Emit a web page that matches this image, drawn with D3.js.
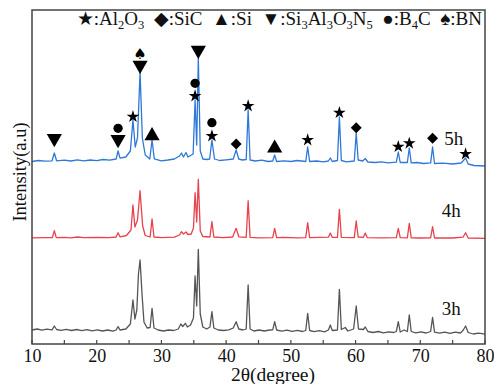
<!DOCTYPE html>
<html><head><meta charset="utf-8">
<script src="https://cdn.jsdelivr.net/npm/d3@7"></script>
<style>
body{margin:0;background:#fff;}
svg{display:block;font-family:"Liberation Serif","Times New Roman",serif;}
</style></head>
<body><svg id="c" width="494" height="384"></svg>
<script>
// ---- data: [2θ, intensity (a.u.)] ----
const pattern5h = [[10,1825],[11,1835],[12,1828],[13.1,1832],[13.45,1910],[13.8,1832],[15,1838],[16,1830],[17,1842],[18,1832],[19,1840],[20,1834],[21,1845],[22,1838],[23.0,1850],[23.3,1930],[23.6,1858],[24.5,1870],[25.2,1930],[25.6,2240],[25.95,1970],[26.3,2060],[26.7,2720],[27.05,2060],[27.5,1890],[28.2,1850],[28.55,2040],[28.9,1852],[30,1832],[31,1840],[32,1850],[32.8,1880],[33.1,1910],[33.4,1870],[33.8,1915],[34.1,1870],[34.5,1885],[34.9,1900],[35.2,2440],[35.45,1990],[35.7,2860],[36.0,1930],[36.4,1850],[37.0,1845],[37.45,1850],[37.8,2040],[38.2,1850],[39,1835],[40,1842],[41.1,1850],[41.55,1940],[41.95,1850],[42.5,1840],[43.1,1845],[43.4,2340],[43.7,1840],[44.5,1830],[45.5,1838],[46.5,1825],[47.2,1830],[47.5,1890],[47.8,1825],[49,1832],[50,1825],[51,1835],[52.3,1825],[52.6,1970],[52.9,1825],[54,1830],[55,1822],[55.8,1830],[56.1,1860],[56.4,1825],[57.2,1835],[57.5,2270],[57.8,1835],[58.6,1822],[59.8,1830],[60.1,2110],[60.4,1840],[61.1,1830],[61.5,1855],[61.9,1820],[63,1815],[64,1822],[65,1812],[66.3,1818],[66.6,1920],[66.9,1815],[68.0,1815],[68.3,1960],[68.6,1812],[69.5,1815],[70.5,1805],[71.6,1812],[71.9,1970],[72.2,1805],[73.5,1808],[75,1800],[76.3,1810],[76.6,1830],[77.0,1860],[77.4,1800],[78.3,1785],[80,1780]];
const pattern4h = [[10,1062],[12,1064],[13.15,1064],[13.45,1133],[13.75,1064],[15,1066],[16,1062],[17,1070],[18,1064],[20,1066],[22,1064],[23.0,1070],[23.3,1113],[23.6,1072],[24.6,1085],[25.3,1140],[25.6,1390],[25.9,1170],[26.3,1240],[26.7,1533],[27.1,1180],[27.5,1085],[28.25,1070],[28.55,1250],[28.85,1070],[30,1064],[32,1068],[32.8,1090],[33.1,1123],[33.4,1100],[33.8,1120],[34.1,1095],[34.6,1100],[34.95,1160],[35.2,1513],[35.45,1220],[35.7,1647],[36.0,1130],[36.4,1075],[37.5,1070],[37.8,1223],[38.1,1070],[39.5,1064],[41.0,1070],[41.55,1157],[41.95,1072],[43.1,1066],[43.4,1433],[43.7,1066],[45,1062],[47.2,1064],[47.5,1157],[47.8,1064],[49,1066],[51,1062],[52.3,1064],[52.6,1213],[52.9,1064],[55.8,1068],[56.1,1110],[56.4,1066],[57.2,1066],[57.5,1347],[57.8,1066],[59.8,1064],[60.1,1230],[60.4,1070],[61.2,1066],[61.5,1110],[61.8,1064],[64,1062],[66.3,1064],[66.6,1157],[66.9,1064],[68.0,1062],[68.3,1207],[68.6,1062],[70,1060],[71.6,1062],[71.9,1173],[72.2,1060],[75,1060],[76.6,1068],[77.0,1113],[77.4,1060],[80,1057]];
const pattern3h = [[10,140],[10.8,150],[11.5,138],[12.3,148],[13.1,142],[13.45,180],[13.8,145],[14.5,136],[15.3,146],[16.1,135],[16.9,145],[17.7,134],[18.5,144],[19.3,132],[20.1,142],[20.9,130],[21.7,140],[22.5,128],[23.0,140],[23.3,173],[23.6,140],[24.5,150],[25.2,200],[25.6,440],[25.9,250],[26.2,340],[26.45,700],[26.7,840],[27.0,500],[27.3,220],[27.8,160],[28.25,165],[28.55,357],[28.85,160],[29.5,140],[30.3,130],[31.1,140],[31.9,135],[32.6,150],[33.0,200],[33.3,175],[33.7,207],[34.0,170],[34.5,190],[34.95,260],[35.2,680],[35.45,380],[35.7,947],[36.0,300],[36.4,170],[37.0,150],[37.5,170],[37.8,323],[38.1,160],[38.8,140],[39.6,135],[40.4,142],[41.1,160],[41.55,223],[41.95,150],[42.6,140],[43.1,150],[43.4,590],[43.7,150],[44.3,130],[45.1,140],[45.9,130],[46.7,140],[47.2,142],[47.5,223],[47.8,140],[48.6,128],[49.4,138],[50.2,126],[51,136],[51.8,125],[52.3,135],[52.6,307],[52.9,135],[53.6,124],[54.4,134],[55.2,122],[55.8,140],[56.1,190],[56.4,135],[57.2,140],[57.5,547],[57.8,145],[58.4,165],[58.8,130],[59.7,150],[60.1,380],[60.45,150],[61.2,145],[61.5,170],[61.9,125],[62.7,115],[63.5,125],[64.3,112],[65.1,122],[65.9,115],[66.3,125],[66.6,223],[66.9,120],[67.5,140],[68.0,125],[68.3,290],[68.6,125],[69.3,112],[70.1,122],[70.9,110],[71.6,125],[71.9,267],[72.2,118],[73,108],[73.8,118],[74.6,106],[75.4,118],[76.2,110],[76.6,135],[77.0,180],[77.4,115],[78.2,100],[79,108],[80,98]];

const patterns = [
  {name:"5h", values:pattern5h, color:"#2f78d8", label:[73.7,1990]},
  {name:"4h", values:pattern4h, color:"#e8424c", label:[73.3,1274]},
  {name:"3h", values:pattern3h, color:"#555555", label:[73.3,290]}
];

// phase markers above the 5h peaks
const markerTheta  = [13.45,23.3,23.3,25.6,26.7,26.7,28.55,35.2,35.2,35.7,37.8,37.8,41.55,43.4,47.5,52.6,57.5,60.1,66.6,68.3,71.9,77.0];
const markerY      = [2040,2030,2157,2273,2773,2907,2097,2480,2607,2923,2080,2213,2000,2380,1973,2040,2313,2163,1973,2007,2057,1900];
const markerPhase  = ["down","down","circle","star","down","spade","up","star","circle","down","star","circle","diamond","star","up","star","star","diamond","star","star","diamond","star"];

const xTicks = [10,20,30,40,50,60,70,80];
const xMinorTicks = [15,25,35,45,55,65,75];

// ---- layout ----
const svg = d3.select("#c");
const L=32, R=485, T=10, B=344;
const x = d3.scaleLinear().domain([10,80]).range([L,R]);
const y = d3.scaleLinear().domain([0,3340]).range([B,T]);

const line = d3.line().x(d=>x(d[0])).y(d=>y(d[1]));

patterns.forEach(p=>{
  svg.append("path").datum(p.values).attr("d",line)
    .attr("fill","none").attr("stroke",p.color).attr("stroke-width",1.3)
    .attr("stroke-linejoin","round");
  svg.append("text").attr("x",x(p.label[0])).attr("y",y(p.label[1]))
    .attr("font-size",19).attr("fill","#111").text(p.name);
});

// markers
const symGen = {
  star: d3.symbol().type(d3.symbolStar).size(50)(),
  up: d3.symbol().type(d3.symbolTriangle).size(100)(),
  down: d3.symbol().type(d3.symbolTriangle).size(100)(),
  circle: d3.symbol().type(d3.symbolCircle).size(68)(),
  diamond: d3.symbol().type(d3.symbolSquare).size(60)()
};
markerTheta.forEach((t,i)=>{
  const ph = markerPhase[i];
  const cx = x(t), cy = y(markerY[i]);
  if(ph==="spade"){
    svg.append("text").attr("x",cx).attr("y",cy+6).attr("text-anchor","middle")
      .attr("font-family","DejaVu Sans").attr("font-size",15).attr("fill","#000").text("\u2660");
  } else {
    let tr = `translate(${cx},${cy})`;
    if(ph==="diamond") tr += " rotate(45)";
    if(ph==="up") tr = `translate(${cx},${cy+1.5})`;
    if(ph==="down") tr = `translate(${cx},${cy-1.5}) rotate(180)`;
    svg.append("path").attr("d",symGen[ph]).attr("transform",tr).attr("fill","#000");
  }
});

// frame
svg.append("rect").attr("x",L).attr("y",T).attr("width",R-L).attr("height",B-T)
  .attr("fill","none").attr("stroke","#444").attr("stroke-width",1.5);

// x axis
const xAxis = d3.axisBottom(x).tickValues(xTicks).tickSize(0).tickPadding(5).tickFormat(d3.format("d"));
const gx = svg.append("g").attr("transform",`translate(0,${B})`).call(xAxis);
gx.select(".domain").remove();
gx.selectAll("text").attr("font-family","Liberation Serif").attr("font-size",18).attr("fill","#111");
svg.selectAll(".minor").data(xTicks.concat(xMinorTicks)).enter().append("line")
  .attr("x1",d=>x(d)).attr("x2",d=>x(d)).attr("y1",B).attr("y2",B-4)
  .attr("stroke","#444").attr("stroke-width",1.2);

svg.append("text").attr("x",273).attr("y",381).attr("text-anchor","middle")
  .attr("font-size",19.5).attr("fill","#111").text("2θ(degree)");
svg.append("text").attr("transform","translate(26,172) rotate(-90)").attr("text-anchor","middle")
  .attr("font-size",18.5).attr("fill","#111").text("Intensity(a.u)");

// legend
const leg = svg.append("text").attr("x",482).attr("y",25).attr("text-anchor","end")
  .style("white-space","pre").attr("font-size",19).attr("fill","#111");
const parts = [
  ["\u2605",0],[":Al",0],["2",1],["O",0],["3",1],
  ["  \u25C6",0],[":SiC",0],
  ["  \u25B2",0],[":Si",0],
  ["  \u25BC",0],[":Si",0],["3",1],["Al",0],["3",1],["O",0],["3",1],["N",0],["5",1],
  ["  \u25CF",0],[":B",0],["4",1],["C",0],
  ["  \u2660",0],[":BN",0]
];
let prevSub=false;
parts.forEach(([s,sub])=>{
  const ts = leg.append("tspan").text(s);
  if(sub){ ts.attr("font-size",12.5).attr("dy",prevSub?0:4); prevSub=true; }
  else if(prevSub){ ts.attr("dy",-4); prevSub=false; }
});
</script></body></html>
